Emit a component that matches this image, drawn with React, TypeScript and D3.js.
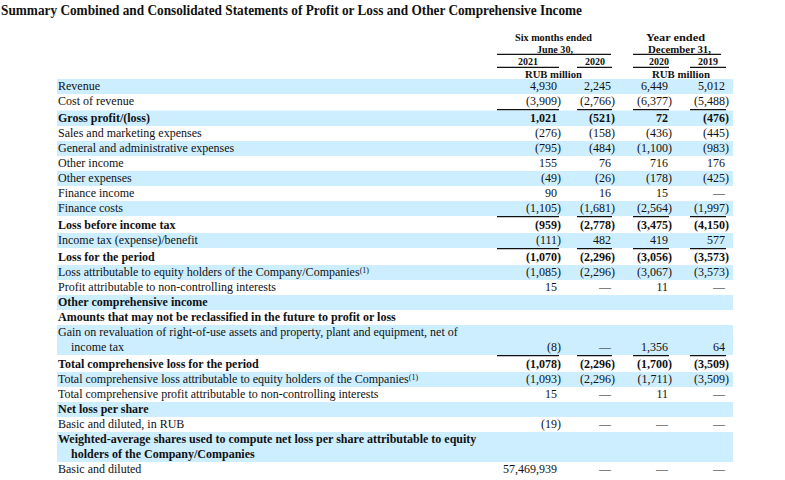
import React, { useRef, useEffect } from "react";
import * as d3 from "d3";

const title =
  "Summary Combined and Consolidated Statements of Profit or Loss and Other Comprehensive Income";

// line items (two-line items are split)
const lineItems: string[][] = [
  ["Revenue"],
  ["Cost of revenue"],
  ["Gross profit/(loss)"],
  ["Sales and marketing expenses"],
  ["General and administrative expenses"],
  ["Other income"],
  ["Other expenses"],
  ["Finance income"],
  ["Finance costs"],
  ["Loss before income tax"],
  ["Income tax (expense)/benefit"],
  ["Loss for the period"],
  ["Loss attributable to equity holders of the Company/Companies(1)"],
  ["Profit attributable to non-controlling interests"],
  ["Other comprehensive income"],
  ["Amounts that may not be reclassified in the future to profit or loss"],
  ["Gain on revaluation of right-of-use assets and property, plant and equipment, net of", "income tax"],
  ["Total comprehensive loss for the period"],
  ["Total comprehensive loss attributable to equity holders of the Companies(1)"],
  ["Total comprehensive profit attributable to non-controlling interests"],
  ["Net loss per share"],
  ["Basic and diluted, in RUB"],
  ["Weighted-average shares used to compute net loss per share attributable to equity", "holders of the Company/Companies"],
  ["Basic and diluted"],
];

const boldItems = [2, 9, 11, 14, 15, 17, 20, 22];
const ruledAbove = [2, 9, 11, 17];

const periodHeaders = ["Six months ended", "Year ended"];
const periodDates = ["June 30,", "December 31,"];
const yearLabels = ["2021", "2020", "2020", "2019"];
const unitLabel = "RUB million";
const columnKeys = ["six2021", "six2020", "year2020", "year2019"];

const u = undefined; // no value shown
// null = dash
const sixMonths2021 = [4930, -3909, 1021, -276, -795, 155, -49, 90, -1105, -959, -111, -1070, -1085, 15, u, u, -8, -1078, -1093, 15, u, -19, u, 57469939];
const sixMonths2020 = [2245, -2766, -521, -158, -484, 76, -26, 16, -1681, -2778, 482, -2296, -2296, null, u, u, null, -2296, -2296, null, u, null, u, null];
const year2020 = [6449, -6377, 72, -436, -1100, 716, -178, 15, -2564, -3475, 419, -3056, -3067, 11, u, u, 1356, -1700, -1711, 11, u, null, u, null];
const year2019 = [5012, -5488, -476, -445, -983, 176, -425, null, -1997, -4150, 577, -3573, -3573, null, u, u, 64, -3509, -3509, null, u, null, u, null];

const columns = [sixMonths2021, sixMonths2020, year2020, year2019];

const App = () => {
  const svgRef = useRef<SVGSVGElement>(null);

  useEffect(() => {
    const width = 785;
    const height = 480;
    const svg = d3.select(svgRef.current);
    svg.selectAll("*").remove();
    svg.attr("width", width).attr("height", height).attr("viewBox", `0 0 ${width} ${height}`);

    const ink = "#111";
    const font = "'Liberation Serif', 'Times New Roman', serif";
    const lineH = 15;
    const top0 = 79;

    // column geometry
    const colRight = d3.scaleOrdinal<string, number>().domain(columnKeys).range([557, 611, 668, 725]);
    const ruleLeft = d3.scaleOrdinal<string, number>().domain(columnKeys).range([497, 577, 633, 690]);
    const ruleRight = d3.scaleOrdinal<string, number>().domain(columnKeys).range([559, 612, 669, 726]);

    const heights = lineItems.map((l, i) => l.length * lineH + (ruledAbove.includes(i) ? 2 : 0));
    const tops = [top0, ...Array.from(d3.cumsum(heights)).map((c) => top0 + c)];

    const num = d3.format(",");
    const fmt = (v: number) => (v < 0 ? `(${num(-v)})` : num(v));

    // title
    svg
      .append("text")
      .attr("x", 1)
      .attr("y", 15)
      .attr("font-family", font)
      .attr("font-weight", "bold")
      .attr("font-size", 14)
      .attr("textLength", 581)
      .attr("lengthAdjust", "spacingAndGlyphs")
      .attr("fill", ink)
      .text(title);

    // header
    const hdr = (t: string, x: number, y: number, w: number) =>
      svg
        .append("text")
        .attr("x", x)
        .attr("y", y)
        .attr("font-family", font)
        .attr("font-weight", "bold")
        .attr("font-size", 10.5)
        .attr("textLength", w)
        .attr("lengthAdjust", "spacingAndGlyphs")
        .attr("fill", ink)
        .text(t);

    hdr(periodHeaders[0], 515, 41, 77);
    hdr(periodDates[0], 537, 52.5, 36);
    hdr(periodHeaders[1], 646, 41, 59);
    hdr(periodDates[1], 648, 52.5, 63);
    const yearLeft = [518, 585, 649, 698];
    yearLabels.forEach((t, i) => hdr(t, yearLeft[i], 65, 20));
    hdr(unitLabel, 525, 77.5, 57);
    hdr(unitLabel, 652, 77.5, 58);

    const rule = (x1: number, x2: number, y: number) =>
      svg
        .append("line")
        .attr("x1", x1)
        .attr("x2", x2)
        .attr("y1", y)
        .attr("y2", y)
        .attr("stroke", ink)
        .attr("stroke-width", 1.3);

    rule(497, 611, 54.3);
    rule(633, 721, 54.3);
    columnKeys.forEach((k) => rule(ruleLeft(k), ruleRight(k), 67.3));

    // shading
    lineItems.forEach((_, i) => {
      if (i % 2 !== 0) return;
      const off = ruledAbove.includes(i) ? 1.5 : 0;
      svg
        .append("rect")
        .attr("x", 57)
        .attr("y", tops[i] + off)
        .attr("width", 733 - 57)
        .attr("height", heights[i] - off)
        .attr("fill", "#cceeff");
    });

    // rules above subtotal rows
    ruledAbove.forEach((i) => {
      columnKeys.forEach((k) => rule(ruleLeft(k), ruleRight(k), tops[i] + 0.7));
    });

    // labels
    lineItems.forEach((lines, i) => {
      const extra = ruledAbove.includes(i) ? 2 : 0;
      const bold = boldItems.includes(i);
      lines.forEach((line, k) => {
        const t = svg
          .append("text")
          .attr("x", k === 0 ? 58 : 71)
          .attr("y", tops[i] + extra + 11 + k * lineH)
          .attr("font-family", font)
          .attr("font-weight", bold ? "bold" : "normal")
          .attr("font-size", 12)
          .attr("fill", ink);
        if (line.endsWith("(1)")) {
          t.append("tspan").text(line.slice(0, -3));
          t.append("tspan").attr("font-size", 8).attr("dy", -3).text("(1)");
        } else {
          t.text(line);
        }
      });
    });

    // values
    columns.forEach((vals, c) => {
      const key = columnKeys[c];
      vals.forEach((v, i) => {
        if (v === undefined) return;
        const extra = ruledAbove.includes(i) ? 2 : 0;
        const y = tops[i] + extra + 11 + (lineItems[i].length - 1) * lineH;
        const neg = v !== null && v < 0;
        svg
          .append("text")
          .attr("x", colRight(key) + (neg ? 4 : 0))
          .attr("y", y)
          .attr("text-anchor", "end")
          .attr("font-family", font)
          .attr("font-weight", boldItems.includes(i) ? "bold" : "normal")
          .attr("font-size", 12)
          .attr("fill", ink)
          .text(v === null ? "\u2014" : fmt(v));
      });
    });
  }, []);

  return (
    <svg
      ref={svgRef}
      style={{ position: "absolute", left: 0, top: 0, background: "#fff" }}
    ></svg>
  );
};

export default App;
